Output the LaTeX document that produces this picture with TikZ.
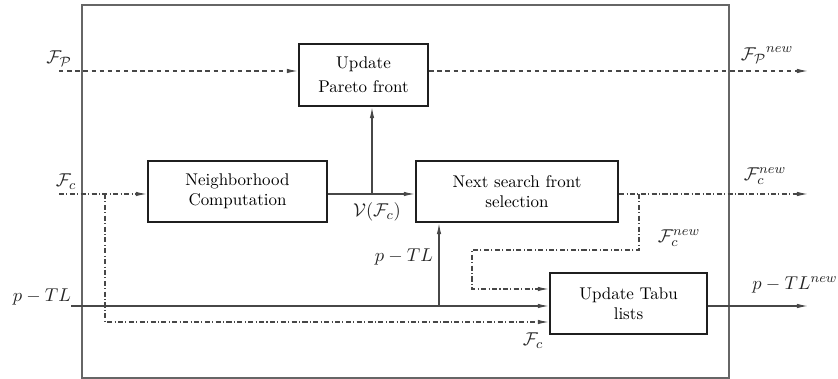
\documentclass[tikz,border=0pt]{standalone}
\usetikzlibrary{arrows.meta}
\def\pxu{0.59pt}
\tikzset{
  x=\pxu, y=-\pxu,
  procbox/.style={draw=black!88, line width=1.3pt, align=center, inner sep=0pt},
  flow/.style={draw=black!72, line width=0.65pt},
  arr/.style={-{Latex[length=6.5pt,width=2.6pt]}},
  dashflow/.style={flow, dash pattern=on 2.6pt off 2.2pt},
  dotflow/.style={flow, dash pattern=on 3pt off 1.4pt on 0.6pt off 1.4pt},
  lbl/.style={inner sep=0pt, text=black!85, font=\fontsize{11}{13}\selectfont},
}
\begin{document}
\begin{tikzpicture}
\useasboundingbox (0,0) rectangle (838,379);
\draw[black!60, line width=0.7pt] (82,5) rectangle (729,378);

\node[procbox, minimum width=129*\pxu, minimum height=62*\pxu] (upd) at (363.5,75)
  {Update\\[2pt]Pareto front};
\node[procbox, minimum width=179*\pxu, minimum height=61*\pxu] (nbh) at (237.5,191.5)
  {Neighborhood\\Computation};
\node[procbox, minimum width=202*\pxu, minimum height=61*\pxu] (nxt) at (517,191.5)
  {Next search front\\selection};
\node[procbox, minimum width=157*\pxu, minimum height=61*\pxu] (tabu) at (628.5,303.5)
  {Update Tabu\\lists};

% coordinates
\coordinate (fpin) at (59,71);
\coordinate (fpout) at (808,71);
\coordinate (fcin) at (59,194);
\coordinate (fcout) at (808,194);
\coordinate (ptlin) at (71,306);
\coordinate (ptlout) at (808,306);
\coordinate (b1) at (105,194);
\coordinate (b1d) at (105,322);
\coordinate (j1) at (372,194);
\coordinate (b2) at (639,194);
\coordinate (b2d) at (639,250);
\coordinate (b2l) at (472,250);
\coordinate (b2m) at (472,289);
\coordinate (j2) at (439,306);

% Pareto front flow
\draw[dashflow, arr] (fpin) -- (upd.west |- fpin);
\draw[dashflow, arr] (upd.east |- fpin) -- (fpout);

% current front flow
\draw[dotflow, arr] (fcin) -- (nbh.west |- fcin);
\draw[dotflow, arr] (b1) -- (b1d) -- (tabu.west |- b1d);
\draw[flow, arr] (nbh.east |- fcin) -- (nxt.west |- fcin);
\draw[flow, arr] (j1) -- (j1 |- upd.south);
\draw[dotflow, arr] (nxt.east |- fcin) -- (fcout);
\draw[dotflow, arr] (b2) -- (b2d) -- (b2l) -- (b2m) -- (tabu.west |- b2m);

% tabu list flow
\draw[flow, arr] (ptlin) -- (tabu.west |- ptlin);
\draw[flow, arr] (j2) -- (j2 |- nxt.south);
\draw[flow, arr] (tabu.east |- ptlin) -- (ptlout);

% labels
\node[lbl] (lfp) at (59,59) {$\mathcal{F}_{\mathcal{P}}$};
\node[lbl] (lfc) at (66,182) {$\mathcal{F}_c$};
\node[lbl] (lptl) at (42,297) {$p-TL$};
\node[lbl] (lv) at (377,212) {$\mathcal{V}(\mathcal{F}_c)$};
\node[lbl] (lptl2) at (404,257) {$p-TL$};
\node[lbl] (lfcn2) at (679,238) {$\mathcal{F}_c^{new}$};
\node[lbl] (lptln) at (795,285) {$p-TL^{new}$};
\node[lbl] (lfc2) at (533,341) {$\mathcal{F}_c$};
\node[lbl] (lfpn) at (767,55) {${\mathcal{F}_{\mathcal{P}}}^{new}$};
\node[lbl] (lfcn) at (765,176) {$\mathcal{F}_c^{new}$};
\end{tikzpicture}
\end{document}
